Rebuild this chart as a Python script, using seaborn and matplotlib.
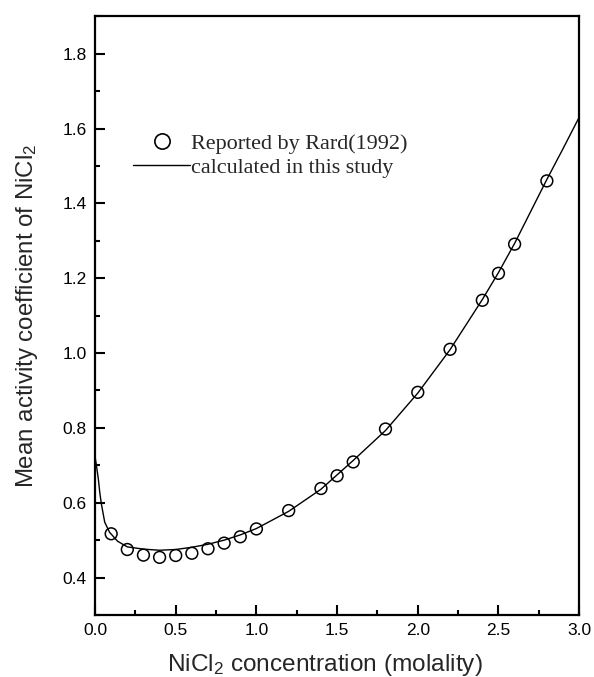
import matplotlib
matplotlib.use("Agg")
import matplotlib.pyplot as plt
import seaborn as sns
import pandas as pd
from matplotlib.ticker import MultipleLocator
from matplotlib.lines import Line2D

# Experimental data (Rard 1992)
exp_m = [0.1, 0.2, 0.3, 0.4, 0.5, 0.6, 0.7, 0.8, 0.9, 1.0, 1.2, 1.4, 1.5, 1.6,
         1.8, 2.0, 2.2, 2.4, 2.5, 2.6, 2.8]
exp_gamma = [0.517, 0.475, 0.460, 0.454, 0.459, 0.465, 0.477, 0.492, 0.509, 0.530,
             0.579, 0.638, 0.672, 0.709, 0.797, 0.895, 1.010, 1.141, 1.213, 1.291, 1.460]

# Calculated curve
calc_m = [0.0, 0.01, 0.02, 0.03, 0.04, 0.06, 0.09, 0.14, 0.2, 0.3, 0.4, 0.5, 0.6, 0.7,
          0.8, 0.9, 1.0, 1.2, 1.4, 1.6, 1.8, 2.0, 2.2, 2.4, 2.5, 2.6, 2.8, 2.9, 3.0]
calc_gamma = [0.724, 0.695, 0.665, 0.625, 0.595, 0.548, 0.521, 0.497, 0.482, 0.476,
              0.473, 0.475, 0.481, 0.489, 0.500, 0.514, 0.531, 0.577, 0.636, 0.713,
              0.793, 0.893, 1.009, 1.143, 1.215, 1.293, 1.464, 1.546, 1.630]

xlabel = "NiCl$_2$ concentration (molality)"
ylabel = "Mean activity coefficient of NiCl$_2$"
legend_labels = ["Reported by Rard(1992)", "calculated in this study"]

sns.set_style("ticks")
plt.rcParams['font.family'] = ['Liberation Sans', 'DejaVu Sans']
plt.rcParams['mathtext.default'] = 'regular'

fig = plt.figure(figsize=(5.94, 6.77), dpi=100)
ax = fig.add_axes([0.160, 0.0916, 0.815, 0.8844])

df_exp = pd.DataFrame({"m": exp_m, "g": exp_gamma})
df_calc = pd.DataFrame({"m": calc_m, "g": calc_gamma})

sns.lineplot(data=df_calc, x="m", y="g", ax=ax, color="black", linewidth=1.0,
             sort=False, estimator=None)
sns.scatterplot(data=df_exp, x="m", y="g", ax=ax, marker="o", s=72,
                facecolor="none", edgecolor="black", linewidth=1.1, zorder=3)

ax.set_xlim(0, 3.0)
ax.set_ylim(0.3, 1.9)
ax.xaxis.set_major_locator(MultipleLocator(0.5))
ax.xaxis.set_minor_locator(MultipleLocator(0.25))
ax.set_yticks([0.4, 0.6, 0.8, 1.0, 1.2, 1.4, 1.6, 1.8])
ax.yaxis.set_minor_locator(MultipleLocator(0.1))

ax.tick_params(which="both", direction="in", top=False, right=False,
               width=1.5, labelsize=12.5, colors="black", pad=6)
ax.tick_params(which="major", length=7)
ax.tick_params(which="minor", length=3.5)
for sp in ax.spines.values():
    sp.set_linewidth(1.6)
    sp.set_color("black")

ax.set_xlabel(xlabel, fontsize=17.6, labelpad=10)
ax.xaxis.label.set_x(0.475)
ax.set_ylabel(ylabel, fontsize=17.3, labelpad=16)

handles = [
    Line2D([], [], marker="o", linestyle="none", markersize=11,
           markerfacecolor="none", markeredgecolor="black", markeredgewidth=1.2),
    Line2D([], [], color="black", linewidth=1.0),
]
ax.legend(handles, legend_labels, loc="upper left", bbox_to_anchor=(0.037, 0.837),
          frameon=False, handlelength=2.6, handletextpad=0.05, labelspacing=0.15,
          prop={"family": "Liberation Serif", "size": 15.9})

fig.savefig("out.png", dpi=100)
